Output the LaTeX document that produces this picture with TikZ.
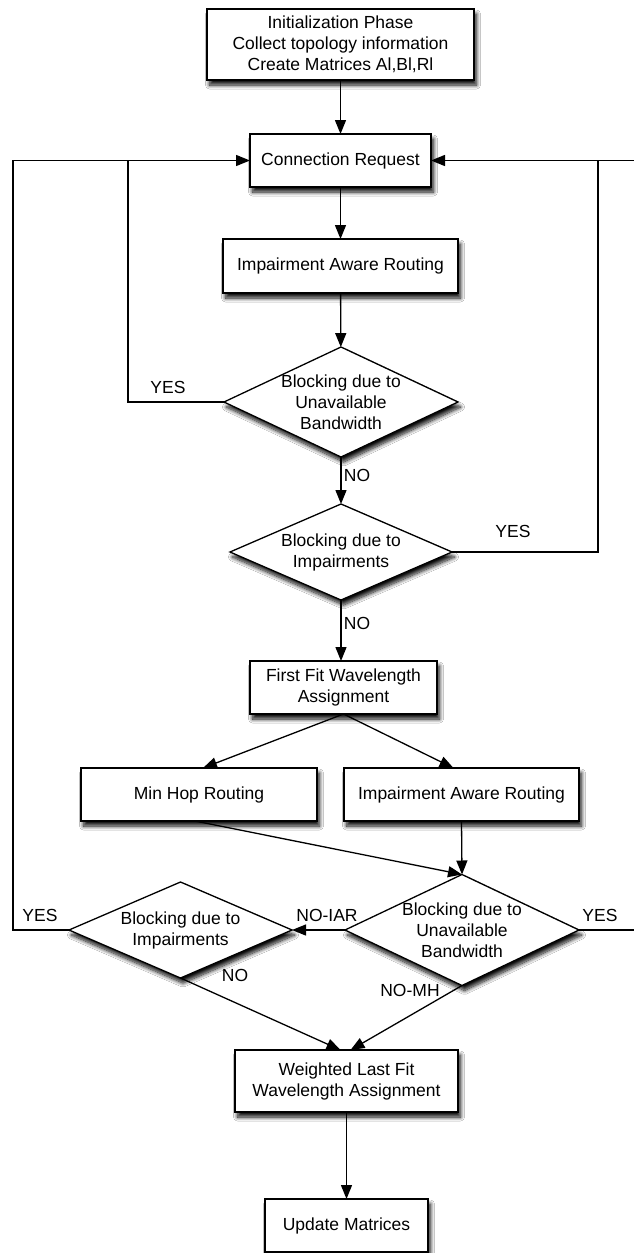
\documentclass[tikz,border=0pt]{standalone}
\usepackage{fontspec}
\setmainfont{Liberation Sans}
\usetikzlibrary{shapes.geometric,arrows.meta,shadows.blur}
\begin{document}
\begin{tikzpicture}[x=1pt,y=-1pt,line width=1.3pt,
  font=\fontsize{17.5}{21}\selectfont,
  shad/.style={blur shadow={shadow xshift=2.5pt,shadow yshift=-5pt,shadow blur radius=4pt,shadow blur steps=10,shadow opacity=95}},
  box/.style={draw,fill=white,rectangle,inner sep=0pt,outer sep=0pt,align=center,shad},
  dia/.style={draw,fill=white,diamond,inner sep=0pt,outer sep=0pt,shad},
  txt/.style={align=center,inner sep=0pt},
  lbl/.style={inner sep=0pt},
  arr/.style={-{Triangle[length=14pt,width=11pt]}}]
\path[use as bounding box,fill=white] (0,0) rectangle (633,1253);

% boxes
\node[box,minimum width=267pt,minimum height=71pt] (init) at (340.5,44.5)
  {Initialization Phase\\Collect topology information\\Create Matrices Al,Bl,Rl};
\node[box,minimum width=181pt,minimum height=53pt] (cr) at (340.5,160.5) {Connection Request};
\node[box,minimum width=235pt,minimum height=54pt] (iar1) at (340.5,266) {Impairment Aware Routing};
\node[dia,minimum width=234pt,minimum height=110pt] (d1) at (341,402) {};
\node[txt] at (d1) {Blocking due to\\Unavailable\\Bandwidth};
\node[dia,minimum width=222pt,minimum height=96pt] (d2) at (341,552) {};
\node[txt] at (d2) {Blocking due to\\Impairments};
\node[box,minimum width=187pt,minimum height=53pt] (ff) at (343.5,687.5) {First Fit Wavelength\\Assignment};
\node[box,minimum width=236pt,minimum height=53pt] (mh) at (199,794.5) {Min Hop Routing};
\node[box,minimum width=235pt,minimum height=53pt] (iar2) at (461.5,794.5) {Impairment Aware Routing};
\node[dia,minimum width=223pt,minimum height=96pt] (d3) at (180.5,930) {};
\node[txt] at (d3) {Blocking due to\\Impairments};
\node[dia,minimum width=234pt,minimum height=111pt] (d4) at (462,930) {};
\node[txt] at (d4) {Blocking due to\\Unavailable\\Bandwidth};
\node[box,minimum width=223pt,minimum height=62pt] (wlf) at (346.5,1081) {Weighted Last Fit\\Wavelength Assignment};
\node[box,minimum width=163pt,minimum height=53pt] (um) at (346.5,1225.5) {Update Matrices};

% helper coordinates for loop lines
\coordinate (l0) at (13,0);
\coordinate (l1) at (128,0);
\coordinate (r1) at (598,0);
\coordinate (r0) at (650,0);

% connectors
\draw[arr] (init) -- (cr);
\draw[arr] (cr) -- (iar1);
\draw[arr] (iar1) -- (d1);
\draw[arr] (d1.west) -- (d1.west -| l1) |- (cr.west);
\draw (d3.west) -- (d3.west -| l0) |- (cr.west -| l1);
\draw[arr] (d1.south) -- (d2.north);
\draw[arr] (d2.east) -- (d2.east -| r1) |- (cr.east);
\draw (d4.east) -- (d4.east -| r0) |- (cr.east -| r1);
\draw[arr] (d2.south) -- (d2.south |- ff.north);
\draw[arr] (ff.south) -- ([xshift=4pt]mh.north);
\draw[arr] (ff.south) -- ([xshift=-8pt]iar2.north);
\draw[arr] ([xshift=-4pt]mh.south) -- (d4.north);
\draw[arr] (iar2.south) -- (d4.north);
\draw[arr] (d4.west) -- (d3.east);
\draw[arr] (d3.south) -- ([xshift=-6pt]wlf.north);
\draw[arr] (d4.south) -- ([xshift=4pt]wlf.north);
\draw[arr] (wlf) -- (um);

% labels
\node[lbl] at (168,387) {YES};
\node[lbl] at (357,475) {NO};
\node[lbl] at (513,531) {YES};
\node[lbl] at (357,623) {NO};
\node[lbl] at (40,915) {YES};
\node[lbl] at (327,915) {NO-IAR};
\node[lbl] at (600,915) {YES};
\node[lbl] at (235,975) {NO};
\node[lbl] at (410,990) {NO-MH};
\end{tikzpicture}
\end{document}
